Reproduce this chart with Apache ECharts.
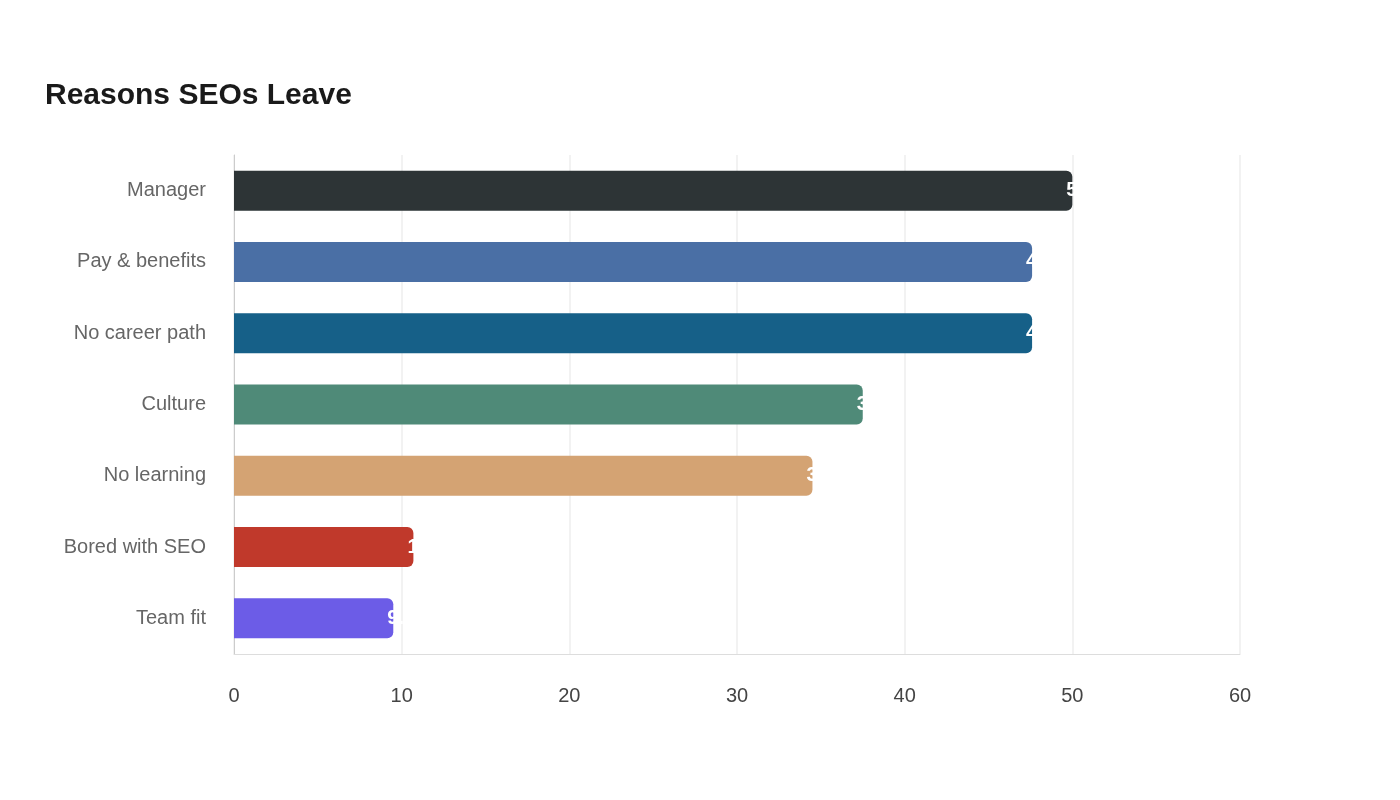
<!DOCTYPE html>
<html><head><meta charset="utf-8">
<script src="https://cdn.jsdelivr.net/npm/echarts@6/dist/echarts.min.js"></script>
<style>html,body{margin:0;background:#fff}#c{width:1400px;height:800px}</style>
</head><body><div id="c"></div>
<script>
const categories = ["Manager","Pay & benefits","No career path","Culture","No learning","Bored with SEO","Team fit"];
const values = [50, 47.6, 47.6, 37.5, 34.5, 10.7, 9.5];
const colors = ["#2d3436","#4a6fa5","#166088","#4f8a78","#d4a373","#c0392b","#6c5ce7"];
const xTicks = [0,10,20,30,40,50,60];
const chart = echarts.init(document.getElementById('c'));
chart.setOption({
  title:{text:"Reasons SEOs Leave",left:40,top:76,textStyle:{fontFamily:"Liberation Sans",fontSize:30,fontWeight:"bold",color:"#1a1a1a"}},
  grid:{left:234,right:160,top:155,bottom:146},
  xAxis:{type:"value",min:xTicks[0],max:xTicks[xTicks.length-1],interval:10,
    axisLine:{show:true,lineStyle:{color:"#ddd"}},axisTick:{show:false},
    splitLine:{lineStyle:{color:"#eee",width:1.5}},
    axisLabel:{margin:32,fontFamily:"Liberation Sans",fontSize:20,color:"#444"}},
  yAxis:{type:"category",data:categories,inverse:true,
    axisLine:{lineStyle:{color:"#ccc"}},axisTick:{show:false},
    axisLabel:{margin:28,fontFamily:"Liberation Sans",fontSize:20,color:"#666"}},
  series:[{type:"bar",barWidth:40,
    data:values.map((v,i)=>({value:v,itemStyle:{color:colors[i],borderRadius:[0,6,6,0]}})),
    label:{show:true,position:"right",distance:-6,color:"#fff",fontFamily:"Liberation Sans",fontSize:20,fontWeight:"bold"}}]
});
</script></body></html>
